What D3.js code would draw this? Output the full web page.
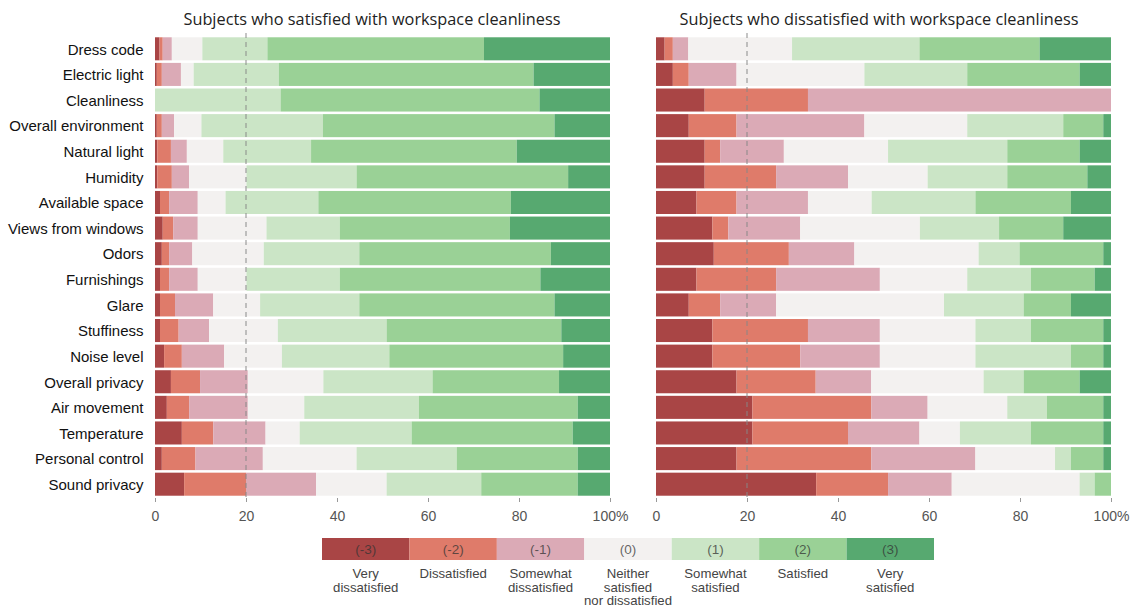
<!DOCTYPE html>
<html><head><meta charset="utf-8">
<script src="https://cdn.jsdelivr.net/npm/d3@7"></script>
<style>body{margin:0;background:#fff;}svg{display:block;}</style>
</head><body>
<svg id="chart" width="1135" height="607"></svg>
<script>
const categories = ["Dress code","Electric light","Cleanliness","Overall environment","Natural light","Humidity","Available space","Views from windows","Odors","Furnishings","Glare","Stuffiness","Noise level","Overall privacy","Air movement","Temperature","Personal control","Sound privacy"];
const levels = ["-3","-2","-1","0","1","2","3"];
const levelCodes = ["(-3)","(-2)","(-1)","(0)","(1)","(2)","(3)"];
const levelNames = [["Very","dissatisfied"],["Dissatisfied"],["Somewhat","dissatisfied"],["Neither","satisfied","nor dissatisfied"],["Somewhat","satisfied"],["Satisfied"],["Very","satisfied"]];
const panelTitles = ["Subjects who satisfied with workspace cleanliness","Subjects who dissatisfied with workspace cleanliness"];
const tickValues = [0,20,40,60,80,100];
const colors = ["#a94545","#df7b6a","#dbaab6","#f3f1f0","#cbe5c6","#9ad196","#57a970"];

// percentages per category, order: -3,-2,-1,0,1,2,3
const satisfied = [
 [1.0,0.7,2.0,6.7,14.3,47.6,27.7],
 [0.4,1.1,4.2,2.8,18.7,56.0,16.8],
 [0,0,0,0,27.6,56.9,15.5],
 [0.4,1.1,2.7,6.0,26.7,50.9,12.2],
 [0.5,3.0,3.5,8.0,19.3,45.2,20.5],
 [0.5,3.2,3.8,12.6,24.2,46.5,9.2],
 [1.1,2.0,6.3,6.1,20.4,42.3,21.8],
 [1.7,2.3,5.4,15.1,16.1,37.4,22.0],
 [1.5,1.6,5.1,15.7,21.0,42.1,13.0],
 [1.1,2.0,6.3,10.7,20.5,44.1,15.3],
 [1.1,3.3,8.4,10.3,21.8,42.9,12.2],
 [1.1,4.1,6.7,15.1,23.9,38.4,10.7],
 [2.0,3.9,9.3,12.7,23.6,38.2,10.3],
 [3.5,6.4,10.5,16.6,24.0,27.8,11.2],
 [2.6,4.9,12.9,12.4,25.2,34.9,7.1],
 [5.9,6.9,11.5,7.5,24.6,35.4,8.2],
 [1.5,7.4,14.8,20.6,22.0,26.6,7.1],
 [6.4,13.6,15.4,15.5,20.8,21.2,7.1]
];
const dissatisfied = [
 [1.9,1.8,3.4,22.8,28.0,26.4,15.7],
 [3.7,3.5,10.5,28.1,22.6,24.7,6.9],
 [10.7,22.7,66.6,0,0,0,0],
 [7.2,10.5,28.1,22.6,21.1,8.8,1.7],
 [10.7,3.4,14.0,22.9,26.2,15.9,6.9],
 [10.7,15.7,15.8,17.5,17.5,17.6,5.2],
 [8.9,8.8,15.7,14.0,22.8,21.0,8.8],
 [12.4,3.5,15.8,26.3,17.4,14.1,10.5],
 [12.7,16.5,14.4,27.3,9.0,18.4,1.7],
 [8.9,17.5,22.8,19.2,14.0,14.0,3.6],
 [7.2,6.9,12.3,36.9,17.5,10.4,8.8],
 [12.4,21.0,15.8,21.0,12.2,15.9,1.7],
 [12.4,19.3,17.5,21.0,21.0,7.1,1.7],
 [17.7,17.4,12.2,24.7,8.8,12.3,6.9],
 [21.2,26.1,12.4,17.5,8.7,12.4,1.7],
 [21.2,21.0,15.7,8.9,15.6,15.9,1.7],
 [17.7,29.6,22.9,17.5,3.5,7.1,1.7],
 [35.2,15.8,14.0,28.1,3.3,3.6,0]
];

const svg = d3.select("#chart");
const y = d3.scaleBand().domain(categories).range([36, 497]).paddingInner(0.1).paddingOuter(0.05);
const color = d3.scaleOrdinal().domain(levels).range(colors);

function stackData(data){
  return data.map((row,i)=>{
    const o = {cat: categories[i]};
    const tot = d3.sum(row);
    levels.forEach((k,j)=>o[k]=row[j]/tot*100);
    return o;
  });
}

const panels = [{data: satisfied, x0:155, x1:610, tx:372, labels:true},{data: dissatisfied, x0:656, x1:1111, tx:879, labels:false}];
panels.forEach((p,pi)=>{
  const x = d3.scaleLinear().domain([0,100]).range([p.x0,p.x1]);
  const g = svg.append("g");
  const series = d3.stack().keys(levels)(stackData(p.data));
  g.selectAll("g.s").data(series).join("g").attr("fill", d=>color(d.key))
    .selectAll("rect").data(d=>d).join("rect")
    .attr("x", d=>x(d[0])).attr("width", d=>Math.max(0,x(d[1])-x(d[0])))
    .attr("y", d=>y(d.data.cat)).attr("height", y.bandwidth());
  g.append("line").attr("x1",x(20)).attr("x2",x(20)).attr("y1",33).attr("y2",500)
    .attr("stroke","#888").attr("stroke-width",1.2).attr("stroke-dasharray","5,4").attr("opacity",0.8);
  const ax = g.append("g").attr("transform","translate(0,498)")
    .call(d3.axisBottom(x).tickValues(tickValues).tickSize(4).tickPadding(9).tickFormat(d=>d===100?"100%":d));
  ax.select(".domain").remove();
  ax.selectAll(".tick line").attr("stroke","#999");
  ax.selectAll("text").attr("font-family","Liberation Sans, Arial, sans-serif").attr("font-size",14).attr("fill","#555");
  g.append("text").attr("x",p.tx).attr("y",25).attr("text-anchor","middle")
    .attr("font-family","Open Sans, sans-serif").attr("font-size",16.3).attr("fill","#222").text(panelTitles[pi]);
  if(p.labels){
    g.selectAll("text.cat").data(categories).join("text").attr("class","cat")
      .attr("x",143.5).attr("y",d=>y(d)+y.bandwidth()/2 + 0.5).attr("dy","0.35em").attr("text-anchor","end")
      .attr("font-family","Liberation Sans, Arial, sans-serif").attr("font-size",15).attr("fill","#111").text(d=>d);
  }
});

// legend
const lx = d3.scaleBand().domain(levels).range([322,934]);
const lg = svg.append("g");
lg.selectAll("rect").data(levels).join("rect").attr("x",d=>lx(d)).attr("width",lx.bandwidth())
  .attr("y",538).attr("height",22).attr("fill",d=>color(d));
lg.selectAll("text.code").data(levels).join("text").attr("class","code")
  .attr("x",d=>lx(d)+lx.bandwidth()/2).attr("y",549).attr("dy","0.35em").attr("text-anchor","middle")
  .attr("font-family","Liberation Sans, Arial, sans-serif").attr("font-size",13.5).attr("fill","#333").attr("fill-opacity",0.75)
  .text((d,i)=>levelCodes[i]);
levels.forEach((d,i)=>{
  const t = lg.append("text").attr("x",lx(d)+lx.bandwidth()/2).attr("y",578).attr("text-anchor","middle")
    .attr("font-family","Liberation Sans, Arial, sans-serif").attr("font-size",13.2).attr("fill","#444");
  levelNames[i].forEach((s,j)=>t.append("tspan").attr("x",lx(d)+lx.bandwidth()/2).attr("dy",j===0?0:13.5).text(s));
});
</script>
</body></html>
